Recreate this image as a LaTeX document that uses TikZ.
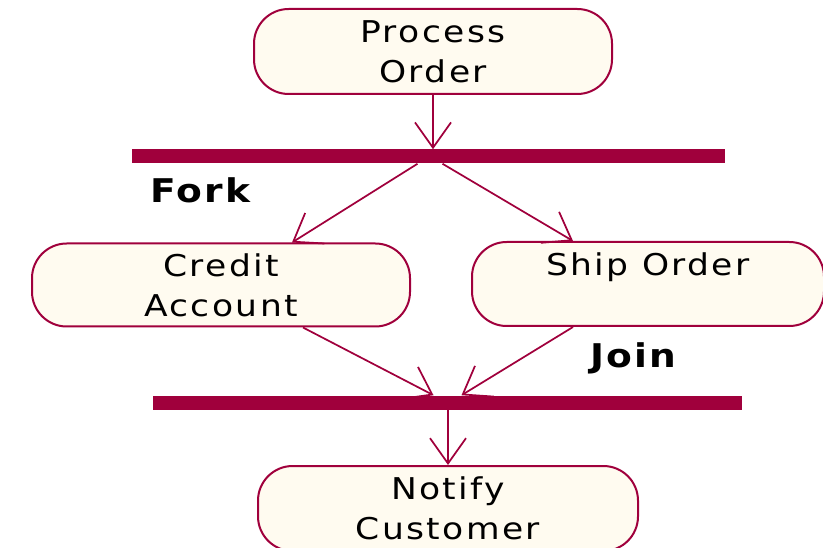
\documentclass[tikz,border=0pt]{standalone}
\usepackage{fontspec}
\newfontfamily\actfont{DejaVu Sans}[FakeStretch=1.15,LetterSpace=8]
\newfontfamily\labfont{DejaVu Sans Bold}[FakeStretch=1.15,LetterSpace=6]
\usetikzlibrary{calc,arrows.meta}
\definecolor{edge}{HTML}{A0003C}
\definecolor{cream}{HTML}{FFFBF0}
\tikzset{
  act/.style={draw=edge, fill=cream, line width=1.5pt, rounded corners=26pt, inner sep=0pt,
    align=center, font=\actfont\fontsize{22.5}{30}\selectfont},
  bar/.style={fill=edge, inner sep=0pt, minimum height=10.5pt},
  flow/.style={draw=edge, line width=1.3pt, -{Straight Barb[length=19pt,width=27pt]}},
  lab/.style={anchor=base west, font=\labfont\fontsize{24.5}{28}\selectfont},
}

\begin{document}
\begin{tikzpicture}[x=0.75pt,y=-0.75pt]
  \useasboundingbox (0,0) rectangle (823,548);

  \node[act, minimum width=268.5pt, minimum height=63.75pt] (order) at (433,51.5) {Process\\Order};
  \node[bar, minimum width=444.75pt] (forkbar) at (428.5,156.5) {};
  \node[act, minimum width=283.5pt, minimum height=62.25pt] (credit) at (221,285) {Credit\\Account};
  \node[act, minimum width=264pt, minimum height=63pt] (ship) at (648,284) {Ship Order\\\phantom{Order}};
  \node[bar, minimum width=441.75pt] (joinbar) at (447.5,402.5) {};
  \node[act, minimum width=285pt, minimum height=63.75pt] (notify) at (448,508.5) {Notify\\Customer};

  \node[lab] (forklab) at (146,203) {Fork};
  \node[lab] (joinlab) at (586,368) {Join};

  \draw[flow] (order.south) -- (order.south |- forkbar.north);
  \draw[flow] ($(forkbar.south)+(-11,0)$) -- ($(credit.north)+(71,0)$);
  \draw[flow] ($(forkbar.south)+(14,0)$) -- ($(ship.north)+(-75,0)$);
  \draw[flow] ($(credit.south)+(82,0)$) -- ($(joinbar.north)+(-14,0)$);
  \draw[flow] ($(ship.south)+(-75,0)$) -- ($(joinbar.north)+(14,0)$);
  \draw[flow] (joinbar.south -| notify.north) -- (notify.north);
\end{tikzpicture}
\end{document}
